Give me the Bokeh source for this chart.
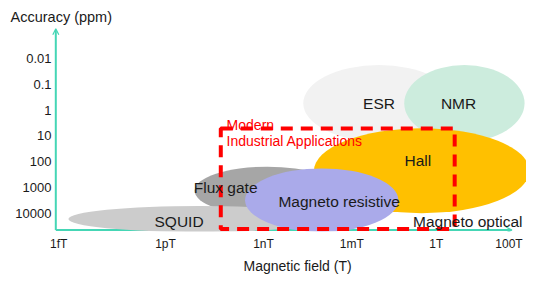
from bokeh.plotting import figure
from bokeh.models import Range1d, FixedTicker, Arrow, OpenHead, Title, ColumnDataSource
from bokeh.core.properties import value
from bokeh.embed import file_html
from bokeh.resources import INLINE

# x: schematic magnetic-field position, y: -log10(accuracy in ppm)
field_labels = ["1fT", "1pT", "1nT", "1mT", "1T", "100T"]
field_pos = [0.3, 11.3, 21.4, 30.5, 39.2, 46.7]
acc_labels = ["0.01", "0.1", "1", "10", "100", "1000", "10000"]
acc_pos = [2, 1, 0, -1, -2, -3, -4]

tech = ["ESR", "NMR", "Hall", "Flux gate", "SQUID", "Magneto resistive"]
tech_x = [33.3, 42.1, 37.7, 21.8, 14.8, 27.4]
tech_y = [0.27, 0.27, -2.35, -3.13, -4.22, -3.49]
tech_w = [15.6, 12.4, 22.2, 15.0, 27.0, 15.8]
tech_h = [2.96, 2.96, 3.29, 1.88, 1.01, 2.46]
tech_color = ["#f2f2f2", "#ccecdd", "#ffc000", "#a6a6a6", "#cccccc", "#aaaaea"]

label_text = ["ESR", "NMR", "Hall", "Flux gate", "SQUID", "Magneto resistive", "Magneto optical"]
label_x = [33.3, 41.5, 37.3, 17.5, 12.7, 29.2, 42.45]
label_y = [0.27, 0.27, -1.94, -2.99, -4.32, -3.53, -4.32]

region_left, region_right, region_top, region_bottom = [17.0], [41.1], [-0.71], [-4.61]
region_text = ["Modern", "Industrial Applications"]
region_text_x = [17.6, 17.6]
region_text_y = [-0.57, -1.18]

axis_origin = (0, -4.65)
y_arrow_top = 3.16
x_arrow_end = 47.0

TEAL = "#45d6b5"
FONT = value("Liberation Sans")
INK = "#1a1a1a"

p = figure(width=526, height=275, output_backend="svg", toolbar_location=None,
           x_range=Range1d(-0.443, 48.5), y_range=Range1d(-4.707, 3.247),
           min_border_left=51, min_border_right=0, min_border_top=26, min_border_bottom=41)
p.outline_line_color = None
p.xgrid.visible = False
p.ygrid.visible = False

for ax in (p.xaxis, p.yaxis):
    ax.axis_line_color = None
    ax.major_tick_line_color = None
    ax.minor_tick_line_color = None
    ax.major_tick_out = 0
    ax.major_tick_in = 0
    ax.minor_tick_out = 0
    ax.minor_tick_in = 0
    ax.major_label_text_font = "Liberation Sans"
    ax.major_label_text_color = INK

p.xaxis.ticker = FixedTicker(ticks=field_pos)
p.xaxis.major_label_overrides = {v: l for v, l in zip(field_pos, field_labels)}
p.xaxis.major_label_text_font_size = "12px"
p.xaxis.major_label_standoff = 5
p.yaxis.ticker = FixedTicker(ticks=acc_pos)
p.yaxis.major_label_overrides = {v: l for v, l in zip(acc_pos, acc_labels)}
p.yaxis.major_label_text_font_size = "13px"
p.yaxis.major_label_standoff = 0

# axis arrows
p.add_layout(Arrow(end=OpenHead(size=6, line_color=TEAL, line_width=1.2),
                   x_start=axis_origin[0], y_start=axis_origin[1],
                   x_end=axis_origin[0], y_end=y_arrow_top,
                   line_color=TEAL, line_width=2, level="underlay"))
p.add_layout(Arrow(end=OpenHead(size=6, line_color=TEAL, line_width=1.2),
                   x_start=axis_origin[0], y_start=axis_origin[1],
                   x_end=x_arrow_end, y_end=axis_origin[1],
                   line_color=TEAL, line_width=2, level="underlay"))

src = ColumnDataSource(dict(x=tech_x, y=tech_y, w=tech_w, h=tech_h, c=tech_color))
p.ellipse(x="x", y="y", width="w", height="h", fill_color="c", line_color=None, source=src)

p.quad(left=region_left, right=region_right, top=region_top, bottom=region_bottom,
       fill_color=None, line_color="#ff0000", line_width=4, line_dash="12 8")

p.text(x=label_x, y=label_y, text=label_text, text_align="center", text_baseline="middle",
       text_font=FONT, text_font_size="15.5px", text_color=INK)
p.text(x=region_text_x, y=region_text_y, text=region_text, text_align="left",
       text_baseline="middle", text_font=FONT, text_font_size="14px", text_color="#ff0000")

p.add_layout(Title(text="Accuracy (ppm)", align="left", offset=-41, standoff=4,
                   text_font="Liberation Sans", text_font_size="14.5px",
                   text_font_style="normal", text_color=INK), "above")
p.add_layout(Title(text="Magnetic field (T)", align="left", offset=192, standoff=4,
                   text_font="Liberation Sans", text_font_size="14px",
                   text_font_style="normal", text_color=INK), "below")

open("out.html", "w").write(file_html(p, INLINE))
